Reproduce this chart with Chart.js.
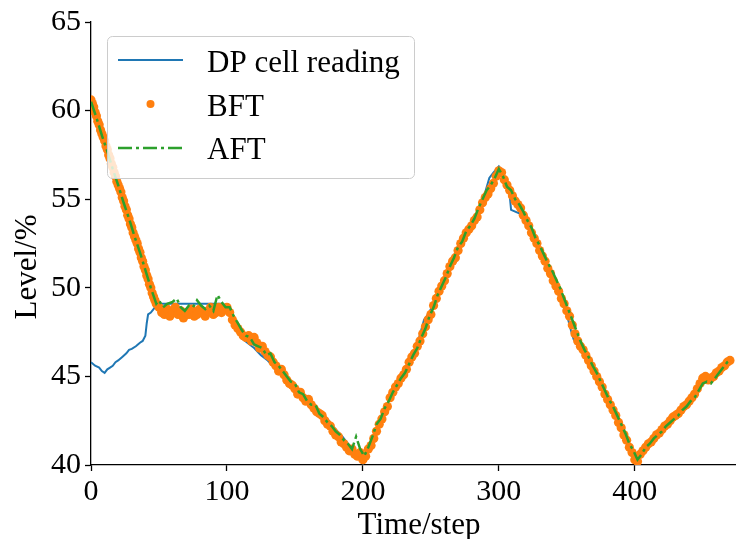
<!DOCTYPE html>
<html>
<head>
<meta charset="utf-8">
<title>Level vs time step</title>
<script src="https://cdn.jsdelivr.net/npm/chart.js@4.4.1/dist/chart.umd.min.js"></script>
<style>
    html, body { margin: 0; padding: 0; background: #fff; }
    #levelChart { display: block; }
</style>
</head>
<body>
<canvas id="levelChart" width="740" height="539"></canvas>
<script>
// DP cell reading (blue solid line)
const dpSteps = [0,3,6,8,10,12,14,16,18,20,23,26,28,30,33,36,38,40,41,42,
    44,46,48,50,60,70,80,90,96,100,103,106,110,115,120,125,130,135,140,145,
    150,155,160,165,170,175,180,185,190,195,200,205,210,215,220,225,230,235,240,245,
    248,250,255,260,265,270,275,280,285,290,293,296,300,303,306,308,309,315,318,320,
    325,330,335,340,345,350,353,355,358,360,365,370,375,380,385,390,395,400,405,410,
    415,420,425,430,435,440,445,450,455,460,465,470];
const dpLevel = [45.8,45.6,45.5,45.3,45.2,45.4,45.5,45.6,45.8,45.9,46.1,46.3,46.5,46.55,46.7,46.9,47.0,47.3,48.0,48.5,
    48.6,48.8,49.0,49.1,49.1,49.1,49.1,49.1,49.1,49.0,48.8,48.0,47.2,46.9,46.6,46.2,45.9,45.5,45.2,44.8,
    44.4,44.0,43.6,43.2,42.9,42.5,42.0,41.6,41.1,40.7,40.1,41.0,42.0,42.9,43.8,44.6,45.2,46.0,46.8,48.2,
    48.5,48.8,49.8,50.6,51.4,52.3,52.9,53.6,54.3,55.4,56.2,56.5,56.85,56.5,55.7,55.2,54.4,54.2,54.0,53.7,
    52.9,52.0,51.3,50.3,49.4,48.5,47.6,47.1,46.8,46.5,45.8,45.3,44.5,43.7,42.9,42.1,41.2,40.1,40.7,41.2,
    41.7,42.1,42.5,42.9,43.3,43.7,44.2,44.6,44.9,45.2,45.5,45.9];

// BFT (orange dots)
const bftSteps = [0,1,2,3,4,5,6,7,8,9,10,11,12,13,14,15,16,17,18,19,20,21,22,23,24,
    25,26,27,28,29,30,31,32,33,34,35,36,37,38,39,40,41,42,43,44,45,46,47,48,
    50,52,54,56,58,60,62,64,66,68,70,72,74,76,78,80,82,84,86,88,90,92,94,96,98,100,102,
    104,106,108,110,112,114,116,118,120,122,124,126,128,130,132,134,136,138,140,142,144,146,148,150,
    152,154,156,158,160,162,164,166,168,170,172,174,176,178,180,182,184,186,188,190,192,194,196,198,200,202,
    204,206,208,210,212,214,216,218,220,222,224,226,228,230,232,234,236,238,240,242,244,246,248,250,
    252,254,256,258,260,262,264,266,268,270,272,274,276,278,280,282,284,286,288,290,292,294,296,298,300,302,
    304,306,308,310,312,314,316,318,320,322,324,326,328,330,332,334,336,338,340,342,344,346,348,350,
    352,354,356,358,360,362,364,366,368,370,372,374,376,378,380,382,384,386,388,390,392,394,396,398,400,402,
    404,406,408,410,412,414,416,418,420,422,424,426,428,430,432,434,436,438,440,442,444,446,448,450,
    452,454,456,458,460,462,464,466,468,470];
const bftLevel = [60.6,60.4,60.2,59.9,59.7,59.4,59.2,58.9,58.7,58.5,58.3,58.0,57.8,57.5,57.3,57.0,56.8,56.5,56.3,56.0,55.8,55.6,55.4,55.1,54.9,
    54.6,54.4,54.1,53.9,53.6,53.4,53.1,52.9,52.7,52.5,52.2,52.0,51.7,51.5,51.2,51.0,50.7,50.5,50.2,50.0,49.7,49.5,49.3,49.1,
    48.9,48.6,48.5,48.8,48.4,48.6,48.9,48.5,48.7,48.3,48.6,48.5,48.8,48.4,48.5,48.8,48.6,48.4,48.7,48.9,48.5,48.6,48.9,48.6,48.8,48.9,48.6,
    48.2,47.9,47.7,47.5,47.3,47.2,47.3,47.0,47.2,46.9,46.6,46.7,46.4,46.2,46.1,45.8,45.6,45.3,45.4,45.1,44.8,44.6,44.5,44.3,
    44.0,44.1,43.8,43.6,43.7,43.4,43.2,43.0,42.9,42.8,42.5,42.3,42.2,41.9,41.7,41.6,41.3,41.2,41.0,40.8,40.9,40.6,40.5,40.7,40.3,40.5,
    40.9,41.1,41.5,41.9,42.3,42.6,43.0,43.3,43.8,44.1,44.4,44.6,44.9,45.1,45.4,45.8,46.1,46.3,46.7,47.0,47.4,47.8,48.2,48.5,
    49.0,49.4,49.8,50.1,50.4,50.8,51.2,51.5,51.7,52.1,52.5,52.8,53.1,53.3,53.5,53.8,54.0,54.4,54.8,55.1,55.3,55.6,55.9,56.3,56.6,56.5,
    56.1,55.8,55.5,55.2,54.9,54.7,54.5,54.1,53.8,53.5,53.1,52.8,52.5,52.1,51.8,51.5,51.1,50.8,50.4,50.1,49.8,49.4,49.1,48.7,
    48.4,47.9,47.4,47.0,46.7,46.5,46.2,45.9,45.6,45.3,45.0,44.7,44.4,44.0,43.7,43.4,43.1,42.8,42.4,42.1,41.7,41.4,41.0,40.7,40.3,40.2,
    40.6,40.8,41.0,41.2,41.3,41.5,41.7,41.8,42.0,42.2,42.3,42.5,42.7,42.8,42.9,43.1,43.3,43.4,43.6,43.8,44.0,44.3,44.6,44.9,
    45.0,44.8,44.9,45.0,45.2,45.3,45.5,45.6,45.8,45.9];

// AFT (green dash-dot line)
const aftSteps = [0,4,8,12,16,20,24,28,32,36,40,44,48,50,53,56,60,63,66,69,72,75,78,81,84,87,90,93,96,99,
    102,105,108,111,114,117,120,123,126,129,132,135,138,141,144,147,150,153,156,159,162,165,168,171,174,177,180,183,186,189,
    192,195,198,201,204,207,210,213,216,219,222,225,228,231,234,237,240,243,246,249,252,255,258,261,264,267,270,273,276,279,
    282,285,288,291,294,297,300,303,306,309,312,315,318,321,324,327,330,333,336,339,342,345,348,351,354,357,360,363,366,369,
    372,375,378,381,384,387,390,393,396,399,402,405,408,411,414,417,420,423,426,429,432,435,438,441,444,447,450,453,456,459,
    462,465,468,470];
const aftLevel = [60.5,59.6,58.6,57.7,56.7,55.8,54.8,53.9,52.9,52.0,51.0,50.0,49.1,49.3,48.9,49.1,49.2,49.4,48.9,48.7,49.0,48.9,49.3,49.0,48.8,49.0,48.7,49.6,49.2,48.9,
    48.9,48.4,48.0,47.6,47.3,47.2,46.8,46.7,46.6,46.2,46.3,45.8,45.6,45.3,45.0,44.7,44.6,44.1,44.0,43.6,43.4,43.4,42.9,42.7,42.4,42.2,41.9,41.7,41.4,41.2,
    40.9,41.6,40.9,40.5,41.0,41.6,42.3,42.6,43.2,43.6,44.1,44.5,44.9,45.2,45.7,46.2,46.6,47.2,47.7,48.4,48.9,49.6,50.1,50.6,51.2,51.7,52.3,52.6,53.2,53.5,
    53.9,54.5,55.0,55.5,55.8,56.2,56.7,56.3,55.7,55.5,55.0,54.7,54.3,53.8,53.4,52.8,52.4,51.9,51.4,51.0,50.5,50.0,49.4,48.8,48.2,47.6,47.0,46.5,46.1,45.6,
    45.2,44.7,44.2,43.7,43.3,42.8,42.3,41.8,41.2,40.8,40.3,40.6,41.0,41.2,41.5,41.7,41.9,42.2,42.4,42.6,42.8,43.1,43.3,43.6,43.8,44.2,44.6,44.7,44.6,44.9,
    45.2,45.5,45.8,45.9];

const xTicks = [0, 100, 200, 300, 400];
const yTicks = [40, 45, 50, 55, 60, 65];

const seriesNames = ['DP cell reading', 'BFT', 'AFT'];
const BLUE = '#1f77b4', ORANGE = '#ff7f0e', GREEN = '#2ca02c';
const SERIF = '"Liberation Serif", "Times New Roman", serif';
const DASHDOT = [14, 4, 3, 4];

const toPoints = (xs, ys) => xs.map((x, i) => ({ x, y: ys[i] }));

// legend box inside the axes, like matplotlib's upper-left legend
const insideLegend = {
    id: 'insideLegend',
    afterDraw(chart) {
        const ctx = chart.ctx;
        const box = { x: 107, y: 36, w: 307, h: 142 };
        ctx.save();
        ctx.fillStyle = 'rgba(255,255,255,0.8)';
        ctx.strokeStyle = '#cccccc';
        ctx.lineWidth = 1;
        ctx.beginPath();
        ctx.roundRect(box.x + 0.5, box.y + 0.5, box.w, box.h, 5);
        ctx.fill();
        ctx.stroke();

        const rows = [60, 104, 148];
        const baselines = [71.5, 115.5, 159];

        ctx.lineWidth = 2;
        ctx.strokeStyle = BLUE;
        ctx.beginPath();
        ctx.moveTo(118, rows[0]);
        ctx.lineTo(183, rows[0]);
        ctx.stroke();

        ctx.fillStyle = ORANGE;
        ctx.beginPath();
        ctx.arc(150.5, rows[1], 4, 0, Math.PI * 2);
        ctx.fill();

        ctx.lineWidth = 2.5;
        ctx.strokeStyle = GREEN;
        ctx.setLineDash(DASHDOT);
        ctx.beginPath();
        ctx.moveTo(118, rows[2]);
        ctx.lineTo(183, rows[2]);
        ctx.stroke();
        ctx.setLineDash([]);

        ctx.fillStyle = '#000';
        ctx.font = '31px ' + SERIF;
        ctx.textAlign = 'left';
        ctx.textBaseline = 'alphabetic';
        seriesNames.forEach((name, i) => ctx.fillText(name, 207, baselines[i]));
        ctx.restore();
    }
};

// axis titles placed where the reference has them
const axisTitles = {
    id: 'axisTitles',
    afterDraw(chart) {
        const ctx = chart.ctx;
        ctx.save();
        ctx.fillStyle = '#000';
        ctx.font = '31px ' + SERIF;
        ctx.textAlign = 'center';
        ctx.textBaseline = 'alphabetic';
        ctx.fillText('Time/step', 419, 534);
        ctx.translate(36, 267);
        ctx.rotate(-Math.PI / 2);
        ctx.fillText('Level/%', 0, 0);
        ctx.restore();
    }
};

new Chart(document.getElementById('levelChart'), {
    type: 'line',
    data: {
        datasets: [
            {
                label: seriesNames[0],
                data: toPoints(dpSteps, dpLevel),
                borderColor: BLUE,
                borderWidth: 2,
                pointRadius: 0,
                fill: false,
                tension: 0,
                order: 3,
            },
            {
                label: seriesNames[1],
                data: toPoints(bftSteps, bftLevel),
                showLine: false,
                pointRadius: 4.6,
                pointBackgroundColor: ORANGE,
                pointBorderWidth: 0,
                order: 2,
            },
            {
                label: seriesNames[2],
                data: toPoints(aftSteps, aftLevel),
                borderColor: GREEN,
                borderWidth: 2.5,
                borderDash: DASHDOT,
                pointRadius: 0,
                fill: false,
                tension: 0,
                order: 1,
            },
        ]
    },
    options: {
        responsive: false,
        animation: false,
        devicePixelRatio: 1,
        layout: { padding: { top: 20, right: 0, left: 0, bottom: 0 } },
        plugins: { legend: { display: false }, tooltip: { enabled: false } },
        scales: {
            x: {
                type: 'linear',
                min: 0,
                max: 474,
                afterFit: s => { s.height = 74; },
                afterBuildTicks: s => { s.ticks = xTicks.map(v => ({ value: v })); },
                ticks: { color: '#000', font: { family: SERIF, size: 30 }, padding: 3, includeBounds: false, maxRotation: 0 },
                grid: { drawOnChartArea: false, drawTicks: true, tickLength: 6, tickWidth: 1.3, color: '#000' },
                border: { display: true, color: '#000', width: 1.3 },
            },
            y: {
                min: 40,
                max: 65,
                afterFit: s => { s.width = 91; },
                afterBuildTicks: s => { s.ticks = yTicks.map(v => ({ value: v })); },
                ticks: { color: '#000', font: { family: SERIF, size: 30 }, padding: 4 },
                grid: { drawOnChartArea: false, drawTicks: true, tickLength: 6, tickWidth: 1.3, color: '#000' },
                border: { display: true, color: '#000', width: 1.3 },
            }
        }
    },
    plugins: [insideLegend, axisTitles]
});
</script>
</body>
</html>
